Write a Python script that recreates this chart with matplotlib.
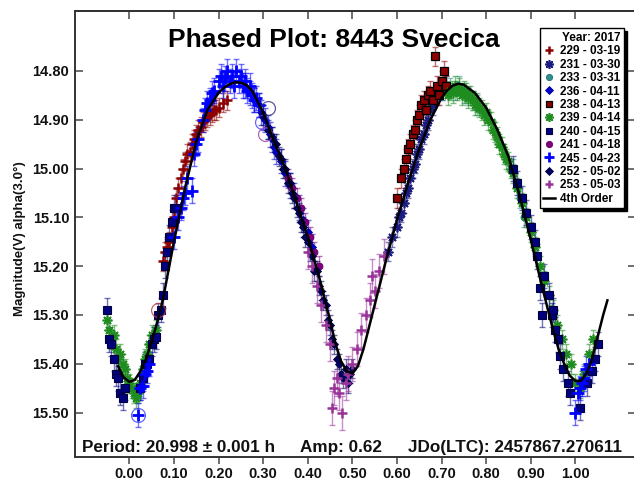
import matplotlib
matplotlib.use("Agg")
import matplotlib.pyplot as plt

plt.rcParams['font.family'] = ['Liberation Sans', 'DejaVu Sans']
plt.rcParams['font.weight'] = 'bold'

# ---------------- data ----------------
x229 = [0.075, 0.08, 0.085, 0.09, 0.095, 0.10, 0.105, 0.11, 0.115, 0.12, 0.125, 0.13, 0.135, 0.14,
        0.145, 0.15, 0.155, 0.16, 0.165, 0.17, 0.175, 0.18, 0.185, 0.19, 0.195, 0.20, 0.21, 0.22]
y229 = [15.19, 15.17, 15.16, 15.15, 15.12, 15.10, 15.06, 15.04, 15.02, 15.00, 14.985, 14.97, 14.965, 14.95,
        14.94, 14.93, 14.92, 14.915, 14.905, 14.90, 14.895, 14.89, 14.885, 14.88, 14.88, 14.875, 14.865, 14.86]

x231 = [0.58, 0.59, 0.60, 0.605, 0.61, 0.615, 0.62, 0.625, 0.63, 0.635, 0.64, 0.645, 0.65, 0.655,
        0.66, 0.665, 0.67, 0.675, 0.68, 0.69, 0.70]
y231 = [15.17, 15.14, 15.12, 15.10, 15.09, 15.07, 15.05, 15.04, 15.02, 15.00, 14.99, 14.97, 14.96, 14.94,
        14.93, 14.91, 14.90, 14.88, 14.87, 14.85, 14.84]

x233 = [0.70, 0.71, 0.72, 0.73, 0.74, 0.75, 0.76, 0.77, 0.78, 0.86, 0.875, 0.885]
y233 = [14.84, 14.83, 14.835, 14.84, 14.83, 14.845, 14.85, 14.86, 14.87, 15.00, 15.06, 15.10]

x236 = [0.26, 0.27, 0.28, 0.29, 0.295, 0.30, 0.305, 0.31, 0.315, 0.32, 0.325, 0.33, 0.34, 0.35,
        0.36, 0.37, 0.38, 0.39, 0.40, 0.41]
y236 = [14.83, 14.845, 14.86, 14.87, 14.885, 14.895, 14.90, 14.915, 14.93, 14.94, 14.955, 14.965, 14.985, 15.01,
        15.035, 15.055, 15.08, 15.105, 15.13, 15.16]

x238 = [0.60, 0.61, 0.615, 0.62, 0.625, 0.63, 0.635, 0.64, 0.645, 0.65, 0.655, 0.66, 0.665, 0.67,
        0.675, 0.68, 0.685, 0.69, 0.695, 0.70, 0.705, 0.71]
y238 = [15.06, 15.02, 15.00, 14.98, 14.96, 14.95, 14.93, 14.92, 14.90, 14.89, 14.87, 14.86, 14.88, 14.85,
        14.84, 14.86, 14.77, 14.83, 14.85, 14.82, 14.80, 14.83]

x239 = [0.715, 0.72, 0.725, 0.73, 0.735, 0.74, 0.745, 0.75, 0.755, 0.76, 0.765, 0.77, 0.775, 0.78,
        0.785, 0.79, 0.795, 0.80, 0.805, 0.81, 0.815, 0.82, 0.825, 0.83, 0.835, 0.84, 0.845, 0.85,
        0.855, 0.86, 0.87, 0.88, 0.89, 0.90, 0.91, 0.92, 0.93, 0.94, 0.95, 0.96, 0.97, 0.98, 0.99,
        1.00, 1.01, 1.02, 1.03, 1.04,
        -0.05, -0.045, -0.04, -0.035, -0.03, -0.025, -0.02, -0.015, -0.01, -0.005, 0.0, 0.005,
        0.01, 0.015, 0.02, 0.025, 0.03, 0.035, 0.04, 0.045, 0.05, 0.055, 0.06]
y239 = [14.85, 14.84, 14.845, 14.83, 14.84, 14.835, 14.85, 14.84, 14.845, 14.855, 14.85, 14.86, 14.87, 14.865,
        14.875, 14.88, 14.89, 14.885, 14.90, 14.905, 14.92, 14.925, 14.935, 14.95, 14.955, 14.97, 14.98, 14.985,
        15.00, 15.01, 15.04, 15.07, 15.10, 15.13, 15.16, 15.20, 15.23, 15.26, 15.29, 15.32, 15.35, 15.38, 15.40,
        15.44, 15.45, 15.42, 15.38, 15.35,
        15.31, 15.33, 15.35, 15.34, 15.37, 15.39, 15.38, 15.40, 15.41, 15.43, 15.44, 15.45,
        15.46, 15.47, 15.46, 15.44, 15.41, 15.39, 15.38, 15.36, 15.34, 15.345, 15.33]

x240 = [-0.05, -0.045, -0.04, -0.035, -0.03, -0.025, -0.02, -0.015, -0.01, 0.025, 0.03, 0.035, 0.04,
        0.045, 0.05, 0.055, 0.06, 0.065, 0.07, 0.075, 0.08, 0.085, 0.09, 0.095, 0.10, 0.105,
        0.86, 0.87, 0.88, 0.89, 0.90, 0.91, 0.915, 0.92, 0.925, 0.93, 0.94, 0.947, 0.951, 0.955,
        0.962, 0.966, 0.973, 0.984, 0.988, 1.011, 1.026, 1.037, 1.044, 1.052]
y240 = [15.29, 15.35, 15.36, 15.39, 15.42, 15.43, 15.46, 15.47, 15.45, 15.45, 15.43, 15.40, 15.40,
        15.39, 15.36, 15.35, 15.345, 15.30, 15.29, 15.26, 15.20, 15.17, 15.14, 15.11, 15.08, 15.08,
        15.00, 15.03, 15.06, 15.09, 15.12, 15.15, 15.18, 15.245, 15.30, 15.22, 15.26, 15.30, 15.29, 15.33,
        15.35, 15.385, 15.41, 15.44, 15.46, 15.49, 15.44, 15.415, 15.39, 15.36]

x241 = [0.355, 0.365, 0.375, 0.385, 0.395, 0.405, 0.415, 0.425]
y241 = [15.02, 15.04, 15.06, 15.08, 15.11, 15.14, 15.17, 15.20]

x245 = [0.19, 0.20, 0.205, 0.21, 0.215, 0.22, 0.225, 0.23, 0.235, 0.24, 0.245, 0.25, 0.255, 0.26,
        0.265, 0.27, 0.275, 0.28, 0.285, 0.29, 0.165, 0.17, 0.175, 0.18, 0.185,
        0.10, 0.11, 0.115, 0.12, 0.125, 0.13, 0.14, 0.145, 0.15, 0.155,
        0.02, 0.025, 0.03, 0.035, 0.04, 0.045,
        1.0, 1.005, 1.01, 1.015, 1.02, 1.025, 1.03]
y245 = [14.84, 14.82, 14.81, 14.83, 14.815, 14.80, 14.82, 14.81, 14.83, 14.80, 14.82, 14.81, 14.83, 14.82,
        14.84, 14.83, 14.85, 14.86, 14.855, 14.87, 14.90, 14.88, 14.865, 14.86, 14.845,
        15.14, 15.10, 15.08, 15.06, 15.05, 15.02, 15.045, 14.97, 14.95, 14.94,
        15.505, 15.45, 15.445, 15.42, 15.415, 15.40,
        15.50, 15.46, 15.45, 15.44, 15.43, 15.41, 15.40]

x252 = [0.30, 0.31, 0.32, 0.33, 0.335, 0.34, 0.345, 0.35, 0.355, 0.36, 0.365, 0.37, 0.375, 0.38,
        0.385, 0.39, 0.395, 0.40, 0.405, 0.41, 0.415, 0.42, 0.425, 0.43, 0.435, 0.44, 0.445, 0.45,
        0.455, 0.46, 0.465, 0.47, 0.475, 0.48, 0.485, 0.49, 0.495, 0.50]
y252 = [14.89, 14.92, 14.935, 14.95, 14.975, 14.98, 15.00, 15.00, 15.03, 15.03, 15.05, 15.06, 15.08, 15.09,
        15.11, 15.12, 15.14, 15.15, 15.17, 15.18, 15.21, 15.21, 15.24, 15.25, 15.27, 15.28, 15.31, 15.32,
        15.35, 15.36, 15.39, 15.40, 15.42, 15.43, 15.41, 15.44, 15.42, 15.41]

x253 = [0.40, 0.41, 0.42, 0.43, 0.44, 0.45, 0.455, 0.46, 0.465, 0.47, 0.477, 0.485, 0.49, 0.50,
        0.51, 0.52, 0.53, 0.54, 0.545, 0.55, 0.56, 0.57]
y253 = [15.17, 15.20, 15.24, 15.28, 15.32, 15.36, 15.49, 15.45, 15.43, 15.46, 15.50, 15.44, 15.42, 15.40,
        15.37, 15.33, 15.30, 15.27, 15.22, 15.25, 15.21, 15.18]

# error sizes per session (mag)
err = {'229': 0.02, '231': 0.02, '233': 0.02, '236': 0.025, '238': 0.02, '239': 0.02,
       '240': 0.025, '241': 0.02, '245': 0.025, '252': 0.02, '253': 0.035}

# circled points (not in legend)
circ_x = [0.02, 0.065, 0.297, 0.305, 0.312]
circ_y = [15.505, 15.29, 14.904, 14.93, 14.876]

# 4th order Fourier fit curve
fit_x = [-0.025, -0.0125, 0.0, 0.0125, 0.025, 0.0375, 0.05, 0.0625, 0.075, 0.0875, 0.10, 0.125, 0.15,
         0.175, 0.20, 0.2125, 0.225, 0.2375, 0.25, 0.2625, 0.275, 0.30, 0.325, 0.35, 0.375, 0.40, 0.425,
         0.45, 0.4625, 0.475, 0.4875, 0.50, 0.5125, 0.525, 0.55, 0.575, 0.60, 0.625, 0.65, 0.675, 0.70,
         0.7125, 0.725, 0.7375, 0.75, 0.775, 0.80, 0.825, 0.85, 0.875, 0.90, 0.925, 0.95, 0.9625,
         0.975, 0.9875, 1.0, 1.0125, 1.025, 1.0375, 1.05, 1.0625, 1.072]
fit_y = [15.405, 15.428, 15.437, 15.433, 15.415, 15.39, 15.355, 15.315, 15.27, 15.21, 15.15, 15.04, 14.945,
         14.88, 14.845, 14.834, 14.827, 14.823, 14.824, 14.829, 14.84, 14.885, 14.945, 15.00, 15.07, 15.14, 15.22,
         15.31, 15.36, 15.395, 15.415, 15.42, 15.405, 15.37, 15.28, 15.19, 15.105, 15.03, 14.96, 14.90, 14.855,
         14.84, 14.83, 14.826, 14.828, 14.845, 14.875, 14.92, 14.975, 15.055, 15.145, 15.24, 15.33, 15.37,
         15.40, 15.424, 15.435, 15.435, 15.42, 15.39, 15.345, 15.30, 15.27]

xticks = [0.0, 0.1, 0.2, 0.3, 0.4, 0.5, 0.6, 0.7, 0.8, 0.9, 1.0]
yticks = [14.8, 14.9, 15.0, 15.1, 15.2, 15.3, 15.4, 15.5]

sessions = [
    ('229', '229 - 03-19', x229, y229),
    ('231', '231 - 03-30', x231, y231),
    ('233', '233 - 03-31', x233, y233),
    ('236', '236 - 04-11', x236, y236),
    ('238', '238 - 04-13', x238, y238),
    ('239', '239 - 04-14', x239, y239),
    ('240', '240 - 04-15', x240, y240),
    ('241', '241 - 04-18', x241, y241),
    ('245', '245 - 04-23', x245, y245),
    ('252', '252 - 05-02', x252, y252),
    ('253', '253 - 05-03', x253, y253),
]

# ---------------- styles ----------------
aster = (8, 2, 0)
styles = {
    '229': dict(marker='+', color='#8B0000', ms=7, mew=1.8, mec='#8B0000'),
    '231': dict(marker=aster, color='#1A1A80', ms=7, mew=1.2, mec='#1A1A80'),
    '233': dict(marker='o', color='#2F8F8F', ms=5, mew=0.6, mec='#1F6F6F'),
    '236': dict(marker='D', color='#0000CD', ms=4, mew=0.6, mec='#0000A0'),
    '238': dict(marker='s', color='#8B0000', ms=5.5, mew=0.9, mec='black'),
    '239': dict(marker=aster, color='#1E8C1E', ms=7, mew=1.2, mec='#1E8C1E'),
    '240': dict(marker='s', color='#00007F', ms=5.5, mew=0.8, mec='#000040'),
    '241': dict(marker='o', color='#800080', ms=5, mew=0.6, mec='#600060'),
    '245': dict(marker='+', color='#0000FF', ms=8, mew=2.0, mec='#0000FF'),
    '252': dict(marker='D', color='#000060', ms=4, mew=0.6, mec='#000040'),
    '253': dict(marker='+', color='#993399', ms=7, mew=1.8, mec='#993399'),
}
circ_colors = ['#4040FF', '#C04040', '#4040FF', '#A040A0', '#303080']

W, H = 634, 483
fig = plt.figure(figsize=(W / 100, H / 100), dpi=100)
ax_left, ax_right, ax_top, ax_bot = 74.7, 636.0, 10.7, 457.0
ax = fig.add_axes([ax_left / W, 1 - ax_bot / H, (ax_right - ax_left) / W, (ax_bot - ax_top) / H])

x0_px, dx_px = 129.3, 446.0
y0_px, dy_px = 71.0, 488.0
ax.set_xlim((ax_left - x0_px) / dx_px, (ax_right - x0_px) / dx_px)
ax.set_ylim(14.8 + (ax_bot - y0_px) / dy_px, 14.8 + (ax_top - y0_px) / dy_px)

handles = []
for key, label, xs, ys in sessions:
    st = styles[key]
    ax.errorbar(xs, ys, yerr=err[key], fmt='none', ecolor=st['color'], alpha=0.55,
                elinewidth=1.0, capsize=2.4, capthick=1.0, zorder=2)
for key, label, xs, ys in sessions:
    st = styles[key]
    h, = ax.plot(xs, ys, linestyle='none', marker=st['marker'], color=st['color'],
                 markersize=st['ms'], markeredgewidth=st['mew'], markeredgecolor=st['mec'],
                 label=label, zorder=3)
    handles.append(h)

for cx, cy, cc in zip(circ_x, circ_y, circ_colors):
    ax.plot([cx], [cy], linestyle='none', marker='o', ms=10, mfc='none', mec=cc, mew=0.9,
            alpha=0.8, zorder=3)

fit_line, = ax.plot(fit_x, fit_y, color='black', lw=1.8, label='4th Order', zorder=5,
                    solid_joinstyle='round')
handles.append(fit_line)

# axes styling
for sp in ax.spines.values():
    sp.set_color('#333333')
    sp.set_linewidth(1.4)
ax.set_xticks(xticks)
ax.set_yticks(yticks)
ax.set_xticklabels(['%.2f' % v for v in xticks])
ax.set_yticklabels(['%.2f' % v for v in yticks])
ax.tick_params(axis='x', direction='out', length=5, width=1.2, color='#555555', pad=2,
               labelsize=10.5, labelcolor='#111111')
ax.tick_params(axis='y', direction='in', length=6, width=1.2, color='#555555', pad=4,
               labelsize=10.5, labelcolor='#111111', right=True)
for lab in ax.get_xticklabels() + ax.get_yticklabels():
    lab.set_fontweight('bold')
sec = ax.secondary_xaxis('top')
sec.set_xticks(xticks)
sec.set_xticklabels([])
sec.tick_params(direction='in', length=6, width=1.2, color='#555555')
sec.spines['top'].set_color('#333333')
sec.spines['top'].set_linewidth(1.4)

leg = ax.legend(handles=handles, title='Year: 2017', loc='upper right',
                bbox_to_anchor=(624 / W, 1 - 28.3 / H), bbox_transform=fig.transFigure,
                prop={'weight': 'bold', 'size': 8.5},
                title_fontproperties={'weight': 'bold', 'size': 8.5},
                alignment='right', frameon=True, fancybox=False,
                shadow={'color': 'black', 'alpha': 1.0}, framealpha=1,
                edgecolor='black', borderpad=0.3, labelspacing=0.12,
                handlelength=1.0, handletextpad=0.4, borderaxespad=0, markerscale=0.9)
leg.get_frame().set_linewidth(1.0)
leg.set_zorder(10)

fig.text(334 / W, 1 - 40 / H, 'Phased Plot: 8443 Svecica', ha='center', va='center',
         fontsize=19, fontweight='bold', color='black')
fig.text(20 / W, 1 - 239 / H, 'Magnitude(V) alpha(3.0°)', rotation=90, ha='center', va='center',
         fontsize=9.5, fontweight='bold', color='#111111')
fig.text(81.5 / W, 1 - 452 / H, 'Period: 20.998 ± 0.001 h', ha='left', va='baseline',
         fontsize=12.3, fontweight='bold', color='#111111')
fig.text(300 / W, 1 - 452 / H, 'Amp: 0.62', ha='left', va='baseline',
         fontsize=12.3, fontweight='bold', color='#111111')
fig.text(407.6 / W, 1 - 452 / H, 'JDo(LTC): 2457867.270611', ha='left', va='baseline',
         fontsize=12.3, fontweight='bold', color='#111111')

fig.savefig('out.png', dpi=100)
